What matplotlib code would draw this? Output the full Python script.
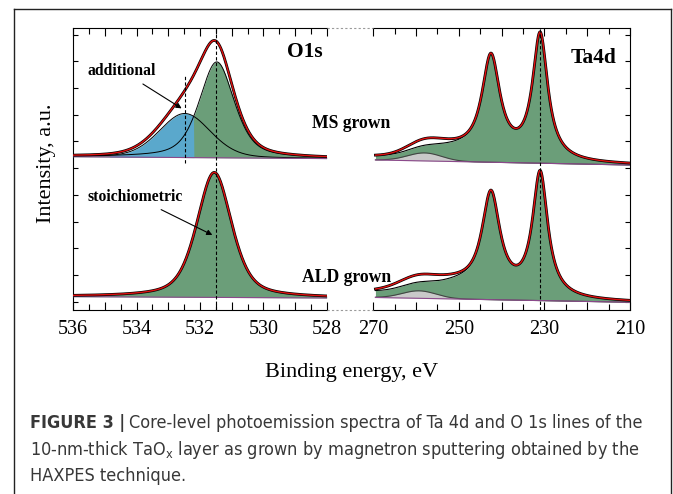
import numpy as np
import matplotlib
matplotlib.use("Agg")
import matplotlib.pyplot as plt
from matplotlib.lines import Line2D
from matplotlib.ticker import MultipleLocator, FuncFormatter
from matplotlib import font_manager

plt.rcParams["font.family"] = "serif"
plt.rcParams["font.serif"] = ["Liberation Serif", "DejaVu Serif"]

W, H = 673, 494

# ---- O1s fit (stacked intensity, a.u.) ----
o1s_ms_background = [5.43, 5.36]        # at 536 eV and 528 eV
o1s_ms_centers = [531.47, 532.48]       # stoichiometric, additional
o1s_ms_heights = [3.59, 1.65]
o1s_ms_fwhm = [1.3, 1.9]
o1s_ms_eta = [0.5, 0.2]

o1s_ald_background = [0.19, 0.14]
o1s_ald_centers = [531.55]
o1s_ald_heights = [4.68]
o1s_ald_fwhm = [1.3]
o1s_ald_eta = [0.5]

o1s_marker = 531.5

# ---- Ta4d fit ----
ta_centers = [231.0, 242.5]             # 4d5/2, 4d3/2
ta_fwhm = [4.3, 5.2]
ta_ms_background = [5.31, 5.12]         # at 270 eV and 210 eV
ta_ms_heights = [4.70, 3.81]
ta_ms_step = 0.12
ta_ald_background = [0.16, -0.02]
ta_ald_heights = [4.64, 3.76]
ta_ald_step = 0.20
# broad loss structure inside the green area
ta_broad_center = 250.5
ta_broad_fwhm = 9.4
ta_broad_heights = [0.22, 0.25]         # MS, ALD
# satellite (grey) and extra unfilled component
ta_sat_centers = [258.0, 259.3]
ta_sat_fwhm = 9.4
ta_sat_heights = [0.30, 0.28]
ta_extra_centers = [257.5, 259.0]
ta_extra_fwhm = [10.6, 14.0]
ta_extra_heights = [0.25, 0.28]

GREEN = "#6b9e79"
BLUE = "#5aa8cc"
GREY = "#c9c9c9"
PURPLE = "#8b4a8b"
RED = "#e01010"


def pvoigt(e, c, h, fwhm, eta):
    x = (e - c) / (fwhm / 2.0)
    return h * (eta / (1 + x**2) + (1 - eta) * np.exp(-np.log(2) * x**2))


def shirley(e, peaks, k):
    order = np.argsort(e)
    cum = np.cumsum(peaks[order])
    cum = cum / cum[-1]
    out = np.empty_like(e)
    out[order] = cum * k
    return out


def envelope_lines(ax, e, env):
    ax.plot(e, env, color="black", lw=2.0, zorder=5)
    ax.plot(e, env, color=RED, lw=1.0, zorder=6)


fig = plt.figure(figsize=(W / 100, H / 100), dpi=100)
ax1 = fig.add_axes([73.3 / W, 184 / H, 253.4 / W, 282 / H])
ax2 = fig.add_axes([373.3 / W, 184 / H, 256.7 / W, 282 / H])

# ---------------- O1s ----------------
eo = np.linspace(536, 528, 600)

# MS grown
bg = np.interp(eo, [528, 536], o1s_ms_background[::-1])
green = pvoigt(eo, o1s_ms_centers[0], o1s_ms_heights[0], o1s_ms_fwhm[0], o1s_ms_eta[0])
blue = pvoigt(eo, o1s_ms_centers[1], o1s_ms_heights[1], o1s_ms_fwhm[1], o1s_ms_eta[1])
ax1.fill_between(eo, bg, bg + green, color=GREEN, lw=0, zorder=2)
ax1.fill_between(eo, bg, bg + blue, where=blue >= green, interpolate=True,
                 color=BLUE, lw=0, zorder=3)
ax1.plot(eo, bg + green, color="black", lw=0.7, zorder=4)
ax1.plot(eo, bg + blue, color="black", lw=0.7, zorder=4)
ax1.plot(eo, bg, color=PURPLE, lw=0.8, zorder=4)
envelope_lines(ax1, eo, bg + green + blue)

# ALD grown
bg = np.interp(eo, [528, 536], o1s_ald_background[::-1])
green = pvoigt(eo, o1s_ald_centers[0], o1s_ald_heights[0], o1s_ald_fwhm[0], o1s_ald_eta[0])
ax1.fill_between(eo, bg, bg + green, color=GREEN, lw=0, zorder=2)
ax1.plot(eo, bg, color=PURPLE, lw=0.8, zorder=4)
envelope_lines(ax1, eo, bg + green)

ax1.axvline(o1s_marker, color="black", ls=(0, (3, 2)), lw=0.8, zorder=7)
ax1.vlines(o1s_ms_centers[1], 5.2, 8.5, color="black", ls=(0, (3, 2)), lw=0.8, zorder=7)

# ---------------- Ta4d ----------------
et = np.linspace(269.5, 210, 800)
spectra = [
    (ta_ms_background, ta_ms_heights, ta_ms_step, 0),
    (ta_ald_background, ta_ald_heights, ta_ald_step, 1),
]
for bgv, heights, k, i in spectra:
    bg = np.interp(et, [210, 270], bgv[::-1])
    doublet = (pvoigt(et, ta_centers[0], heights[0], ta_fwhm[0], 1.0)
               + pvoigt(et, ta_centers[1], heights[1], ta_fwhm[1], 1.0))
    main = (doublet + shirley(et, doublet, k)
            + pvoigt(et, ta_broad_center, ta_broad_heights[i], ta_broad_fwhm, 0.0))
    sat = pvoigt(et, ta_sat_centers[i], ta_sat_heights[i], ta_sat_fwhm, 0.0)
    extra = pvoigt(et, ta_extra_centers[i], ta_extra_heights[i], ta_extra_fwhm[i], 0.0)
    ax2.fill_between(et, bg, bg + sat, color=GREY, lw=0, zorder=2)
    ax2.fill_between(et, bg + sat, bg + sat + main, color=GREEN, lw=0, zorder=2)
    ax2.plot(et, bg + sat, color="#444444", lw=0.8, zorder=4)
    ax2.plot(et, bg + sat + main, color="black", lw=0.8, zorder=4)
    ax2.plot(et, bg, color=PURPLE, lw=0.8, zorder=4)
    envelope_lines(ax2, et, bg + sat + main + extra)

ax2.axvline(ta_centers[0], color="black", ls=(0, (3, 2)), lw=0.8, zorder=7)

# ---------------- axes styling ----------------
ax1.set_xlim(536, 528)
ax2.set_xlim(270, 210)
for ax in (ax1, ax2):
    ax.set_ylim(-0.31, 10.25)
    ax.yaxis.set_major_locator(MultipleLocator(1))
    ax.tick_params(axis="x", which="both", direction="in", top=True, bottom=True,
                   labeltop=False, pad=7, labelsize=14.5, width=0.8)
    ax.tick_params(axis="x", which="major", length=6)
    ax.tick_params(axis="x", which="minor", length=4.5)
    ax.tick_params(axis="y", direction="in", length=3.5, width=0.8,
                   labelleft=False, labelright=False)
    for s in ax.spines.values():
        s.set_linewidth(0.8)
    ax.patch.set_alpha(0)

ax1.xaxis.set_major_locator(MultipleLocator(1))
ax1.xaxis.set_minor_locator(MultipleLocator(0.5))
ax1.xaxis.set_major_formatter(FuncFormatter(lambda v, p: f"{v:.0f}" if round(v) % 2 == 0 else ""))
ax2.xaxis.set_major_locator(MultipleLocator(10))
ax2.xaxis.set_minor_locator(MultipleLocator(5))
ax2.xaxis.set_major_formatter(FuncFormatter(lambda v, p: f"{v:.0f}" if round(v) % 20 == 10 else ""))

ax1.spines["right"].set_visible(False)
ax1.tick_params(axis="y", left=True, right=False)
ax2.spines["left"].set_visible(False)
ax2.tick_params(axis="y", left=False, right=True)

# broken-axis joins
for yp in (28, 310):
    fig.add_artist(Line2D([326.7 / W, 373.3 / W], [1 - yp / H, 1 - yp / H],
                          transform=fig.transFigure, color="#9a9a9a", lw=0.8,
                          ls=(0, (2, 2))))

# ---------------- labels ----------------
ax1.text(0.985, 0.915, "O1s", transform=ax1.transAxes, ha="right", va="center",
         fontsize=15.5, fontweight="bold")
ax2.text(0.949, 0.894, "Ta4d", transform=ax2.transAxes, ha="right", va="center",
         fontsize=15.5, fontweight="bold")
fig.text(351 / W, 1 - 124 / H, "MS grown", ha="center", va="center",
         fontsize=12.7, fontweight="bold", zorder=10)
fig.text(347 / W, 1 - 277 / H, "ALD grown", ha="center", va="center",
         fontsize=12.7, fontweight="bold", zorder=10)

ax1.annotate("additional", xy=(532.58, 7.24), xytext=(88 / W, 1 - 71 / H),
             textcoords="figure fraction", ha="left", va="center",
             fontsize=11.3, fontweight="bold", zorder=8,
             arrowprops=dict(arrowstyle="-|>", color="black", lw=0.8,
                             mutation_scale=8, shrinkA=3, shrinkB=0))
ax1.annotate("stoichiometric", xy=(531.61, 2.5), xytext=(88 / W, 1 - 197 / H),
             textcoords="figure fraction", ha="left", va="center",
             fontsize=11.3, fontweight="bold", zorder=8,
             arrowprops=dict(arrowstyle="-|>", color="black", lw=0.8,
                             mutation_scale=8, shrinkA=3, shrinkB=0))

fig.text(352 / W, 1 - 372 / H, "Binding energy, eV", ha="center", va="center",
         fontsize=16)
fig.text(47 / W, 1 - 163 / H, "Intensity, a.u.", ha="center", va="center",
         rotation=90, fontsize=16)

# ---------------- caption ----------------
names = {f.name for f in font_manager.fontManager.ttflist}
if "Liberation Sans Narrow" in names:
    cap = dict(family="Liberation Sans Narrow")
else:
    cap = dict(family="DejaVu Sans", stretch="condensed")
cap_color = "#383838"
cap_size = 13.0

fig.canvas.draw()
renderer = fig.canvas.get_renderer()
t = fig.text(30 / W, 1 - 423 / H, "FIGURE 3 |", fontsize=cap_size, fontweight="bold",
             color=cap_color, va="center", **cap)
bb = t.get_window_extent(renderer)
fig.text(bb.x1 / W + 4 / W, 1 - 423 / H,
         "Core-level photoemission spectra of Ta 4d and O 1s lines of the",
         fontsize=cap_size, color=cap_color, va="center", **cap)
fig.text(30 / W, 1 - 450 / H,
         r"10-nm-thick TaO$_\mathregular{x}$ layer as grown by magnetron sputtering obtained by the",
         fontsize=cap_size, color=cap_color, va="center", **cap)
fig.text(30 / W, 1 - 476 / H, "HAXPES technique.", fontsize=cap_size,
         color=cap_color, va="center", **cap)

# frame around figure and caption
for xs, ys in (([14, 14], [9, H + 5]), ([14, 671], [9, 9]), ([671, 671], [9, H + 5])):
    fig.add_artist(Line2D([x / W for x in xs], [1 - y / H for y in ys],
                          transform=fig.transFigure, color="#222222", lw=1.0))

fig.savefig("out.png", dpi=100)
